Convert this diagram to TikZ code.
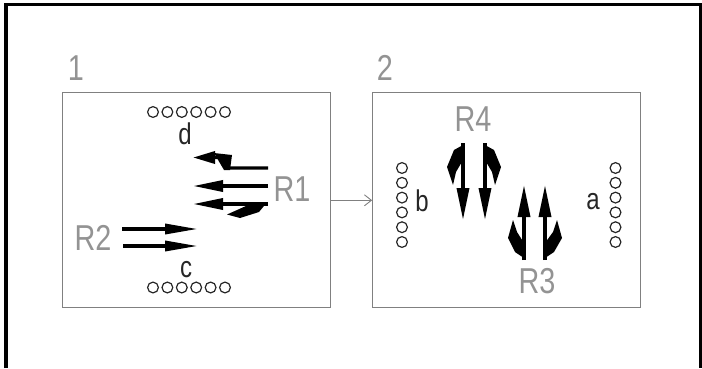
\documentclass[tikz,border=0pt]{standalone}
\usepackage{fontspec}
\usepackage{tikz}
\usetikzlibrary{arrows.meta}
\newfontfamily\cadfont[FakeStretch=0.8]{Liberation Sans}

\begin{document}
\begin{tikzpicture}[x=1pt,y=-1pt,
  panel/.style={draw=gray,line width=1.1pt,minimum width=268pt,minimum height=215pt,inner sep=0pt},
  tag/.style={font=\cadfont\fontsize{36}{36}\selectfont,text=gray!85,inner sep=0pt},
  port/.style={font=\cadfont\fontsize{30}{30}\selectfont,text=black!85,inner sep=0pt},
  pin/.style={draw=black!85,line width=1.2pt},
  flow/.style={draw=black,line width=3.4pt,-{Triangle[length=30pt,width=11pt]}},
  barb/.style={fill=black},
  link/.style={draw=gray,line width=0.9pt,-{Straight Barb[length=7pt,width=11pt]}}]
\useasboundingbox (0,0) rectangle (702,368);
\draw[line width=3.5pt] (6,368) -- (6,4.5) -- (700.3,4.5) -- (700.3,368);
\node[panel] (box1) at (196.7,200.3) {};
\node[panel] (box2) at (506.7,200.3) {};
\node[tag] (lab1) at (76,68) {1};
\node[tag] (lab2) at (385,68) {2};
\draw[link] (box1.east) -- (box2.west);
% ports of 1
\foreach \i in {0,...,5} {
  \draw[pin] (153+14.4*\i,112) circle (5.4);
  \draw[pin] (153+14.4*\i,287.5) circle (5.4);
}
\node[port] (pd) at (185,134) {d};
\node[port] (pc) at (186,270) {c};
% ports of 2
\foreach \i in {0,...,5} {
  \draw[pin] (402,168+14.8*\i) circle (5.4);
  \draw[pin] (615.5,168+14.8*\i) circle (5.4);
}
\node[port] (pb) at (422,201) {b};
\node[port] (pa) at (593,202) {a};
% R1
\node[tag] (r1) at (292,189) {R1};
\draw[flow,-{Triangle[length=22pt,width=12pt]}] (268,168) -- (229,168) -- (219,157.5) -- (193,157.5);
\fill[barb] (214,153) -- (232,155) -- (230,170) -- (224,170) -- cycle;
\draw[flow] (268,186) -- (193,186);
\draw[flow] (268,204) -- (193,204);
\fill[barb] (227,214.5) -- (246,206) -- (266,203.5) -- (259,212) -- (240,218) -- cycle;
% R2
\node[tag] (r2) at (93,237.5) {R2};
\draw[flow,-{Triangle[length=33pt,width=10pt]}] (122,229) -- (198,229);
\draw[flow,-{Triangle[length=33pt,width=10pt]}] (123,246) -- (198,246);
% R4
\node[tag] (r4) at (473,119) {R4};
\draw[flow,-{Triangle[length=32pt,width=12pt]}] (463,143) -- (463,220);
\draw[flow,-{Triangle[length=32pt,width=12pt]}] (485,143) -- (485,220);
\fill[barb] (463,145) -- (454,150) -- (447,167) -- (453,185) -- (456,172) -- (463,160) -- cycle;
\fill[barb] (485,145) -- (494,150) -- (501,167) -- (495,185) -- (492,172) -- (485,160) -- cycle;
% R3
\node[tag] (r3) at (537,281.5) {R3};
\draw[flow,-{Triangle[length=32pt,width=12pt]}] (524,260) -- (524,185);
\draw[flow,-{Triangle[length=32pt,width=12pt]}] (545,260) -- (545,185);
\fill[barb] (524,258) -- (515,252) -- (508,238) -- (513,220) -- (517,232) -- (524,243) -- cycle;
\fill[barb] (545,258) -- (554,252) -- (562,238) -- (557,220) -- (553,232) -- (545,243) -- cycle;
\end{tikzpicture}
\end{document}
